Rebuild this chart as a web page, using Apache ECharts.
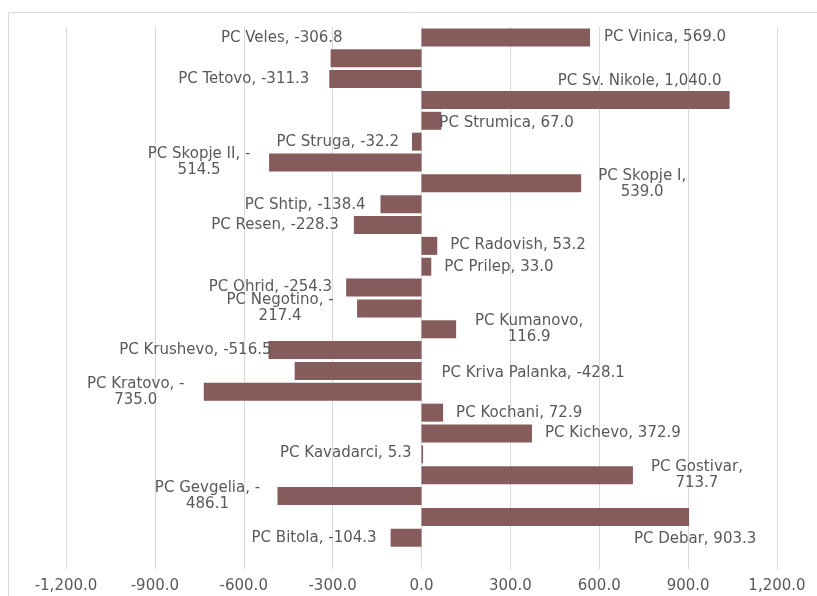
<!DOCTYPE html>
<html>
<head>
<meta charset="utf-8">
<script src="https://cdn.jsdelivr.net/npm/echarts@6/dist/echarts.min.js"></script>
<style>
html,body{margin:0;padding:0;background:#fff;}
#chart{width:817px;height:596px;}
</style>
</head>
<body>
<div id="chart"></div>
<script>
// ---- data ----
const categories = ['PC Vinica','PC Veles','PC Tetovo','PC Sv. Nikole','PC Strumica','PC Struga',
  'PC Skopje II','PC Skopje I','PC Shtip','PC Resen','PC Radovish','PC Prilep','PC Ohrid',
  'PC Negotino','PC Kumanovo','PC Krushevo','PC Kriva Palanka','PC Kratovo','PC Kochani',
  'PC Kichevo','PC Kavadarci','PC Gostivar','PC Gevgelia','PC Debar','PC Bitola'];
const values = [569.0,-306.8,-311.3,1040.0,67.0,-32.2,-514.5,539.0,-138.4,-228.3,53.2,33.0,-254.3,
  -217.4,116.9,-516.5,-428.1,-735.0,72.9,372.9,5.3,713.7,-486.1,903.3,-104.3];
const axisMin = -1200, axisMax = 1200, axisStep = 300;

// ---- label placement (layout only): [position, dx, dy, wrap, centered] ----
const labelPlacement = [
  ['right', 14, 0, false, false],
  ['left', 12, -20, false, false],
  ['left', -20, 0, false, false],
  ['insideRight', -8, -19, false, false],
  ['right', -2, 2, false, false],
  ['left', -13, 0, false, false],
  ['left', -70, 0, true, true],
  ['right', 61, 1, true, true],
  ['left', -15, 1, false, false],
  ['left', -15, 0, false, false],
  ['right', 13, -1, false, false],
  ['right', 13, 0, false, false],
  ['left', -14, 0, false, false],
  ['left', -77, 0, true, true],
  ['right', 73, 0, true, true],
  ['left', 3, 0, false, false],
  ['right', 20, 2, false, false],
  ['left', -68, 0, true, true],
  ['right', 13, 0, false, false],
  ['right', 13, 0, false, false],
  ['left', -10, -1, false, false],
  ['right', 64, 0, true, true],
  ['left', -70, 0, true, true],
  ['right', 6, 22, false, true],
  ['left', -14, 0, false, false]
];

const fmt = v => v.toLocaleString('en-US', {minimumFractionDigits: 1, maximumFractionDigits: 1});
const FONT = 'DejaVu Sans';
const TXT = '#595959';

const seriesData = values.map((v, i) => {
  const p = labelPlacement[i];
  let text;
  if (p[3]) {
    text = v < 0 ? categories[i] + ', -\n' + fmt(Math.abs(v)) : categories[i] + ',\n' + fmt(v);
  } else {
    text = categories[i] + ', ' + fmt(v);
  }
  const lbl = {
    show: true, position: p[0], distance: 0, offset: [p[1], p[2]],
    formatter: text, color: TXT, fontFamily: FONT, fontSize: 15, lineHeight: 16,
    textBorderWidth: 0
  };
  if (p[4]) lbl.align = 'center';
  return {value: v, label: lbl};
});

const chart = echarts.init(document.getElementById('chart'), null, {renderer: 'canvas'});
chart.setOption({
  animation: false,
  backgroundColor: '#ffffff',
  graphic: [{
    type: 'rect', silent: true,
    shape: {x: 8.5, y: 12.5, width: 900, height: 700},
    style: {fill: 'none', stroke: '#d9d9d9', lineWidth: 1}
  }],
  grid: {left: 66, right: 40, top: 27, bottom: 27, containLabel: false},
  xAxis: {
    type: 'value', min: axisMin, max: axisMax, interval: axisStep,
    axisLine: {show: false}, axisTick: {show: false},
    splitLine: {show: true, lineStyle: {color: '#d9d9d9', width: 1}},
    axisLabel: {formatter: v => fmt(v), color: TXT, fontFamily: FONT, fontSize: 15, margin: 10}
  },
  yAxis: {
    type: 'category', inverse: true, data: categories.concat(['']),
    axisLine: {show: false}, axisTick: {show: false}, axisLabel: {show: false},
    splitLine: {show: false}
  },
  series: [{
    type: 'bar', data: seriesData, barWidth: 18,
    itemStyle: {color: '#855c5b'}
  }]
});
</script>
</body>
</html>
